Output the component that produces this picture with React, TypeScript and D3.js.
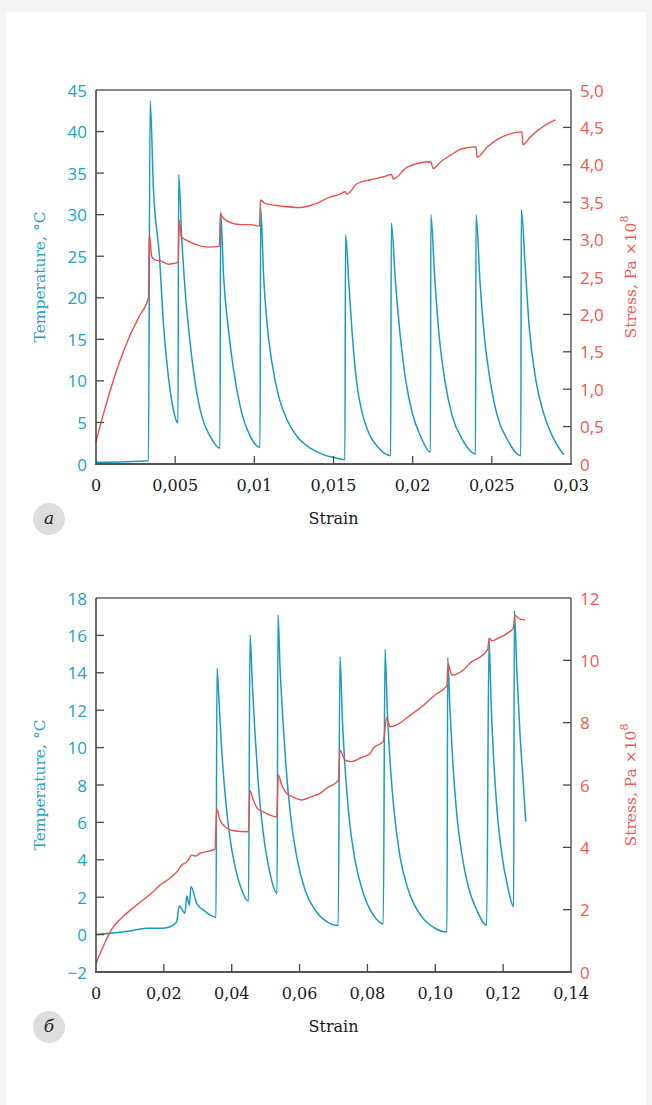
import * as d3 from 'd3'

// ── Panel a ─────────────────────────────────────────────────────────────────
const X1_TICKS = [0, 0.005, 0.01, 0.015, 0.02, 0.025, 0.03]
const X1_LABELS = ['0', '0,005', '0,01', '0,015', '0,02', '0,025', '0,03']
const T1_TICKS = [0, 5, 10, 15, 20, 25, 30, 35, 40, 45]
const T1_LABELS = ['0', '5', '10', '15', '20', '25', '30', '35', '40', '45']
const S1_TICKS = [0, 0.5, 1, 1.5, 2, 2.5, 3, 3.5, 4, 4.5, 5]
const S1_LABELS = ['0', '0,5', '1,0', '1,5', '2,0', '2,5', '3,0', '3,5', '4,0', '4,5', '5,0']

// [strain, temperature °C]
const TEMP_A: [number, number][] = [
  [0, 0.2], [0.00331, 0.4], [0.00342, 43.7],
  [0.00363, 33.0], [0.00401, 24.9], [0.00426, 16.9], [0.00448, 12.1], [0.00468, 8.9], [0.00489, 6.5], [0.00518, 4.9],
  [0.00522, 34.8],
  [0.00542, 27.0], [0.00563, 20.9], [0.00595, 14.5], [0.00627, 9.7], [0.00669, 5.7], [0.00722, 3.3], [0.00783, 1.9],
  [0.00787, 30.3],
  [0.00806, 22.5], [0.00837, 16.1], [0.00869, 11.3], [0.00911, 6.9], [0.00975, 3.3], [0.01036, 2.0],
  [0.0104, 30.8],
  [0.01059, 22.5], [0.0108, 16.9], [0.01112, 12.1], [0.01154, 8.1], [0.01207, 5.3], [0.0127, 3.3], [0.01354, 1.9],
  [0.01439, 1.1], [0.01523, 0.7], [0.01572, 0.5],
  [0.01576, 27.6],
  [0.01597, 21.7], [0.01618, 15.7], [0.0165, 9.3], [0.01682, 6.1], [0.01723, 3.7], [0.01777, 2.1], [0.01861, 1.0],
  [0.01865, 29.0],
  [0.01892, 21.7], [0.0192, 15.7], [0.01956, 10.1], [0.01998, 6.1], [0.02051, 3.3], [0.02112, 1.4],
  [0.02115, 30.0],
  [0.02139, 22.5], [0.02166, 15.7], [0.02203, 10.1], [0.02251, 5.7], [0.02315, 2.9], [0.02397, 1.2],
  [0.024, 30.0],
  [0.02426, 21.7], [0.02451, 15.7], [0.02489, 10.1], [0.02536, 5.7], [0.02599, 2.9], [0.02683, 1.0],
  [0.02686, 30.6],
  [0.02711, 23.7], [0.02736, 16.5], [0.02778, 10.1], [0.02827, 6.1], [0.02884, 3.3], [0.02954, 1.1],
]

// [strain, stress Pa×10^8]
const STRESS_A: [number, number][] = [
  [0, 0.3], [0.00051, 0.7], [0.0011, 1.12], [0.00215, 1.72], [0.00272, 1.97], [0.00331, 2.22],
  [0.00336, 3.07], [0.00353, 2.77], [0.00373, 2.73], [0.00416, 2.71], [0.00458, 2.67], [0.00489, 2.68], [0.00519, 2.7],
  [0.00525, 3.26], [0.00538, 3.04], [0.00574, 2.99], [0.00637, 2.93], [0.00711, 2.9], [0.0078, 2.91],
  [0.00785, 3.35], [0.00796, 3.31], [0.00827, 3.25], [0.00911, 3.2], [0.00975, 3.2], [0.01033, 3.18],
  [0.01038, 3.53], [0.0107, 3.48], [0.01165, 3.45], [0.01291, 3.43], [0.01375, 3.47], [0.01481, 3.57],
  [0.01544, 3.61], [0.01571, 3.64], [0.01585, 3.61], [0.0165, 3.75], [0.01734, 3.8], [0.01818, 3.84],
  [0.01867, 3.87], [0.01877, 3.81], [0.01966, 3.97], [0.02114, 4.04], [0.0213, 3.95], [0.02177, 4.04],
  [0.02241, 4.13], [0.02304, 4.21], [0.02346, 4.23], [0.02399, 4.24], [0.02408, 4.1], [0.02473, 4.24],
  [0.02536, 4.34], [0.0261, 4.41], [0.0269, 4.44], [0.02696, 4.27], [0.02747, 4.38], [0.0281, 4.49],
  [0.02901, 4.6],
]

// ── Panel б ─────────────────────────────────────────────────────────────────
const X2_TICKS = [0, 0.02, 0.04, 0.06, 0.08, 0.1, 0.12, 0.14]
const X2_LABELS = ['0', '0,02', '0,04', '0,06', '0,08', '0,10', '0,12', '0,14']
const T2_TICKS = [-2, 0, 2, 4, 6, 8, 10, 12, 14, 16, 18]
const T2_LABELS = ['−2', '0', '2', '4', '6', '8', '10', '12', '14', '16', '18']
const S2_TICKS = [0, 2, 4, 6, 8, 10, 12]
const S2_LABELS = ['0', '2', '4', '6', '8', '10', '12']

const TEMP_B: [number, number][] = [
  [0, 0.0], [0.01, 0.19], [0.0149, 0.34], [0.01886, 0.34], [0.0208, 0.37], [0.02278, 0.51], [0.02378, 0.69],
  [0.02455, 1.53], [0.02623, 1.14], [0.02673, 2.06], [0.0275, 1.58], [0.028, 2.56], [0.02968, 1.67],
  [0.03162, 1.32], [0.0336, 1.05], [0.03537, 0.92],
  [0.03566, 14.24],
  [0.03634, 12.19], [0.03705, 9.87], [0.03802, 7.56], [0.03929, 5.42], [0.04097, 3.63], [0.04294, 2.39], [0.04495, 1.78],
  [0.04539, 16.02],
  [0.04607, 13.44], [0.04686, 10.76], [0.04783, 8.09], [0.04931, 5.42], [0.05128, 3.28], [0.05338, 2.2],
  [0.05364, 17.09],
  [0.05423, 14.33], [0.05503, 11.65], [0.056, 8.98], [0.05738, 6.3], [0.05915, 4.17], [0.0616, 2.39],
  [0.06455, 1.32], [0.06799, 0.69], [0.0714, 0.48],
  [0.0719, 14.86],
  [0.07259, 11.65], [0.07339, 8.98], [0.07457, 6.3], [0.07633, 3.99], [0.07878, 2.21], [0.08173, 1.05], [0.08467, 0.57],
  [0.08518, 15.26],
  [0.08585, 12.01], [0.08665, 9.34], [0.08792, 6.49], [0.0896, 4.17], [0.09204, 2.39], [0.09599, 0.96],
  [0.09991, 0.34], [0.10345, 0.14],
  [0.10366, 14.81],
  [0.10433, 12.01], [0.10513, 9.34], [0.10631, 6.49], [0.10778, 4.35], [0.10973, 2.56], [0.1122, 1.32], [0.11515, 0.51],
  [0.11583, 15.84],
  [0.11642, 12.55], [0.11721, 9.34], [0.11828, 6.49], [0.11957, 4.35], [0.12134, 2.56], [0.12311, 1.49],
  [0.12329, 17.32],
  [0.12399, 14.33], [0.12496, 10.76], [0.12594, 8.09], [0.12665, 6.04],
]

const STRESS_B: [number, number][] = [
  [0, 0.28], [0.0051, 1.45], [0.008, 1.78], [0.012, 2.15], [0.0169, 2.58], [0.01886, 2.79], [0.02181, 3.01],
  [0.02426, 3.27], [0.02526, 3.43], [0.02623, 3.49], [0.0272, 3.59], [0.02821, 3.75], [0.02947, 3.72],
  [0.03065, 3.81], [0.03263, 3.86], [0.03507, 3.94],
  [0.03557, 5.22], [0.03655, 4.88], [0.03802, 4.66], [0.04047, 4.53], [0.04489, 4.5],
  [0.04539, 5.82], [0.04636, 5.52], [0.04754, 5.25], [0.04931, 5.14], [0.05326, 4.98],
  [0.05373, 6.32], [0.05473, 6.0], [0.0562, 5.73], [0.05815, 5.61], [0.06063, 5.52], [0.06307, 5.61],
  [0.06602, 5.73], [0.06846, 5.93], [0.07141, 6.14],
  [0.07191, 7.12], [0.07339, 6.8], [0.07536, 6.75], [0.07831, 6.89], [0.08075, 7.0], [0.08173, 7.18], [0.08467, 7.39],
  [0.08568, 8.17], [0.08665, 7.87], [0.08862, 7.93], [0.09204, 8.19], [0.09599, 8.51], [0.09991, 8.89], [0.10336, 9.18],
  [0.10383, 9.88], [0.10483, 9.53], [0.10631, 9.56], [0.10825, 9.69], [0.11073, 9.96], [0.11267, 10.07], [0.11544, 10.35],
  [0.11592, 10.71], [0.11662, 10.63], [0.11857, 10.71], [0.12152, 10.89], [0.12299, 11.03],
  [0.12349, 11.45], [0.12446, 11.35], [0.12644, 11.29],
]

const CYAN = '#1a9cbe'
const CYAN_TEXT = '#22a3c5'
const RED = '#ec5048'
const RED_TEXT = '#ef5a50'
const AXIS = '#4a4a4a'
const SANS = '"Open Sans", "Noto Sans", sans-serif'
const SERIF = '"DejaVu Serif", serif'

const LEFT = 96
const RIGHT = 571
const PLOT_H = 374
const TICK = 8

type PanelProps = {
  top: number
  letter: string
  xTicks: number[]; xLabels: string[]
  tTicks: number[]; tLabels: string[]
  sTicks: number[]; sLabels: string[]
  temp: [number, number][]
  stress: [number, number][]
}

function Panel({ top, letter, xTicks, xLabels, tTicks, tLabels, sTicks, sLabels, temp, stress }: PanelProps) {
  const bottom = top + PLOT_H
  const x = d3.scaleLinear().domain([xTicks[0], xTicks[xTicks.length - 1]]).range([LEFT, RIGHT])
  const yT = d3.scaleLinear().domain([tTicks[0], tTicks[tTicks.length - 1]]).range([bottom, top])
  const yS = d3.scaleLinear().domain([sTicks[0], sTicks[sTicks.length - 1]]).range([bottom, top])

  const tempLine = d3.line<[number, number]>().x((d) => x(d[0])).y((d) => yT(d[1])).curve(d3.curveMonotoneX)
  const stressLine = d3.line<[number, number]>().x((d) => x(d[0])).y((d) => yS(d[1])).curve(d3.curveMonotoneX)

  const midY = (top + bottom) / 2

  return (
    <g>
      {/* data */}
      <path d={tempLine(temp) ?? ''} fill="none" stroke={CYAN} strokeWidth={1.5} strokeLinejoin="round" />
      <path d={stressLine(stress) ?? ''} fill="none" stroke={RED} strokeWidth={1.4} strokeLinejoin="round" />

      {/* frame */}
      <line x1={LEFT} x2={RIGHT} y1={top} y2={top} stroke="#111" strokeWidth={1.2} />
      <line x1={LEFT} x2={LEFT} y1={top} y2={bottom} stroke="#222" strokeWidth={1.3} />
      <line x1={RIGHT} x2={RIGHT} y1={top} y2={bottom} stroke="#666" strokeWidth={1.6} />
      <line x1={LEFT - 1} x2={RIGHT + 1} y1={bottom} y2={bottom} stroke="#555" strokeWidth={2} />

      {/* x axis */}
      {xTicks.map((t, i) => (
        <g key={`x${i}`}>
          {i > 0 && i < xTicks.length - 1 && (
            <line x1={x(t)} x2={x(t)} y1={bottom} y2={bottom - TICK} stroke={AXIS} strokeWidth={1.3} />
          )}
          <text x={x(t)} y={bottom + 21} textAnchor="middle" dominantBaseline="central"
            fontFamily={SERIF} fontSize={16} fill="#1a1a1a">{xLabels[i]}</text>
        </g>
      ))}
      <text x={(LEFT + RIGHT) / 2} y={bottom + 54} textAnchor="middle" dominantBaseline="central"
        fontFamily={SERIF} fontSize={16} fill="#1a1a1a">Strain</text>

      {/* temperature axis */}
      {tTicks.map((t, i) => (
        <g key={`t${i}`}>
          {i > 0 && i < tTicks.length - 1 && (
            <line x1={LEFT} x2={LEFT + TICK} y1={yT(t)} y2={yT(t)} stroke={AXIS} strokeWidth={1.3} />
          )}
          <text x={87} y={yT(t)} textAnchor="end" dominantBaseline="central"
            fontFamily={SANS} fontSize={17} fill={CYAN_TEXT}>{tLabels[i]}</text>
        </g>
      ))}
      <text transform={`translate(40,${midY}) rotate(-90)`} textAnchor="middle" dominantBaseline="central"
        fontFamily={SERIF} fontSize={15.5} fill={CYAN_TEXT}>Temperature, °C</text>

      {/* stress axis */}
      {sTicks.map((t, i) => (
        <g key={`s${i}`}>
          {i > 0 && i < sTicks.length - 1 && (
            <line x1={RIGHT} x2={RIGHT - TICK} y1={yS(t)} y2={yS(t)} stroke={AXIS} strokeWidth={1.3} />
          )}
          <text x={580} y={yS(t)} textAnchor="start" dominantBaseline="central"
            fontFamily={SANS} fontSize={17} fill={RED_TEXT}>{sLabels[i]}</text>
        </g>
      ))}
      <text transform={`translate(631,${midY}) rotate(-90)`} textAnchor="middle" dominantBaseline="central"
        fontFamily={SERIF} fontSize={15.5} fill={RED_TEXT}>
        Stress, Pa ×10<tspan fontSize={11} dy={-7}>8</tspan>
      </text>

      {/* panel letter */}
      <circle cx={49} cy={bottom + 55} r={16} fill="#dddddd" />
      <text x={49} y={bottom + 54} textAnchor="middle" dominantBaseline="central"
        fontFamily={SERIF} fontStyle="italic" fontSize={17} fill="#222">{letter}</text>
    </g>
  )
}

export default function App() {
  return (
    <div style={{ position: 'absolute', left: 0, top: 0, width: 652, height: 1105, background: '#f4f4f4' }}>
      <svg width={652} height={1105} style={{ display: 'block' }}>
        <rect x={6} y={12} width={640} height={1100} fill="#ffffff" />
        <Panel top={90} letter="а"
          xTicks={X1_TICKS} xLabels={X1_LABELS}
          tTicks={T1_TICKS} tLabels={T1_LABELS}
          sTicks={S1_TICKS} sLabels={S1_LABELS}
          temp={TEMP_A} stress={STRESS_A} />
        <Panel top={598} letter="б"
          xTicks={X2_TICKS} xLabels={X2_LABELS}
          tTicks={T2_TICKS} tLabels={T2_LABELS}
          sTicks={S2_TICKS} sLabels={S2_LABELS}
          temp={TEMP_B} stress={STRESS_B} />
      </svg>
    </div>
  )
}
